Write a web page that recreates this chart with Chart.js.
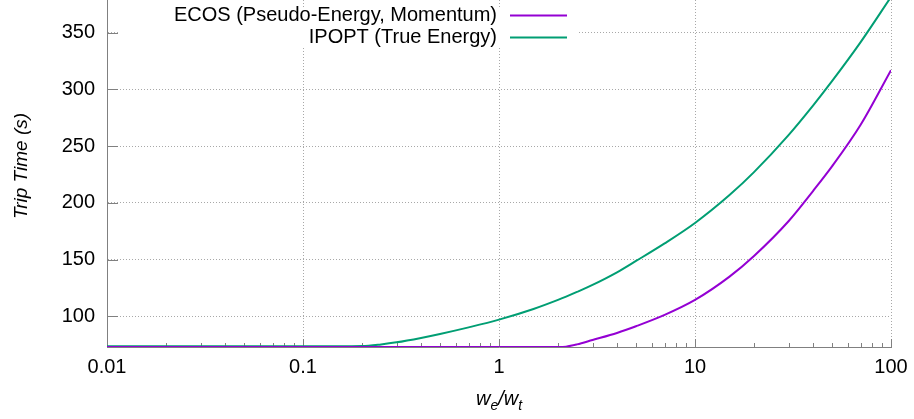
<!DOCTYPE html>
<html>
<head>
<meta charset="utf-8">
<script src="https://cdn.jsdelivr.net/npm/chart.js@4.4.1/dist/chart.umd.min.js"></script>
<style>
  html, body { margin: 0; padding: 0; background: #fff; }
  #wrap { width: 914px; height: 419px; }
</style>
</head>
<body>
<div id="wrap"><canvas id="tripChart" width="914" height="419"></canvas></div>
<script>
const FONT = '"Liberation Sans", Arial, Helvetica, sans-serif';

// weight ratio w_e / w_t (sample points)
const weightRatio = [0.01, 0.1, 0.15, 0.2, 0.25, 0.3, 0.4, 0.5, 0.7, 1, 1.5, 2, 2.2, 2.5, 3, 4, 5, 7, 10, 15, 20, 30, 40, 50, 70, 100];

// trip time (s) for each solver
const ecosTime  = [73.0, 73.0, 73.0, 73.0, 73.0, 73.0, 73.0, 73.0, 73.0, 73.0, 73.0, 73.0, 73.3, 75.3, 79.2, 85.4, 91.3, 101.3, 114.5, 135.0, 153.2, 183.8, 210.4, 232.1, 268.8, 316.9];
const ipoptTime = [73.6, 73.6, 73.6, 73.8, 75.3, 77.1, 81.0, 84.5, 90.3, 97.1, 106.5, 114.5, 117.4, 121.5, 127.7, 138.8, 148.8, 164.3, 182.3, 206.9, 227.1, 259.7, 285.7, 307.2, 341.6, 381.4];

const seriesNames  = ['ECOS (Pseudo-Energy, Momentum)', 'IPOPT (True Energy)'];
const seriesColors = ['#9400d3', '#009e73'];

const xTickValues = [0.01, 0.1, 1, 10, 100];
const yTickValues = [100, 150, 200, 250, 300, 350];
const yAxisTitle = 'Trip Time (s)';

// minor ticks 2..9 in every decade
const xMinorTicks = [];
for (let d = 0; d < xTickValues.length - 1; d++) {
    for (let m = 2; m <= 9; m++) xMinorTicks.push(xTickValues[d] * m);
}

const toPoints = ys => weightRatio.map((x, i) => ({ x: x, y: ys[i] }));

// gnuplot-like extras: key box, inward ticks, key entries, axis labels
const gnuplotDecor = {
    id: 'gnuplotDecor',
    beforeDatasetsDraw(chart) {
        const ctx = chart.ctx;
        const xs = chart.scales.x, ys = chart.scales.y;
        const area = chart.chartArea;
        ctx.save();
        // opaque key background
        ctx.fillStyle = '#ffffff';
        ctx.fillRect(119, 7, 459, 40);

        ctx.strokeStyle = '#808080';
        ctx.lineWidth = 1;
        ctx.beginPath();
        yTickValues.forEach(v => {
            const py = Math.round(ys.getPixelForValue(v)) + 0.5;
            ctx.moveTo(area.left, py);
            ctx.lineTo(area.left + 11, py);
        });
        xTickValues.forEach(v => {
            const px = Math.round(xs.getPixelForValue(v)) + 0.5;
            ctx.moveTo(px, area.bottom);
            ctx.lineTo(px, area.bottom - 8);
        });
        xMinorTicks.forEach(v => {
            const px = Math.round(xs.getPixelForValue(v)) + 0.5;
            ctx.moveTo(px, area.bottom);
            ctx.lineTo(px, area.bottom - 4);
        });
        ctx.stroke();
        ctx.restore();
    },
    afterDraw(chart) {
        const ctx = chart.ctx;
        ctx.save();
        // key
        const keyY = [15.5, 37.5];
        ctx.font = '20px ' + FONT;
        ctx.textAlign = 'right';
        ctx.textBaseline = 'middle';
        ctx.fillStyle = '#000';
        seriesNames.forEach((name, i) => {
            ctx.fillText(name, 497, keyY[i]);
            ctx.strokeStyle = seriesColors[i];
            ctx.lineWidth = 2;
            ctx.beginPath();
            ctx.moveTo(510, keyY[i]);
            ctx.lineTo(567, keyY[i]);
            ctx.stroke();
        });

        // y axis label, rotated
        ctx.save();
        ctx.translate(22, 166);
        ctx.rotate(-Math.PI / 2);
        ctx.font = 'italic 19px ' + FONT;
        ctx.textAlign = 'center';
        ctx.textBaseline = 'middle';
        ctx.fillText(yAxisTitle, 0, 0);
        ctx.restore();

        // x axis label: w_e / w_t
        const big = 'italic 20px ' + FONT, small = 'italic 14px ' + FONT;
        const parts = [['w', big, 0], ['e', small, 5], ['/', big, 0], ['w', big, 0], ['t', small, 5]];
        let total = 0;
        parts.forEach(p => { ctx.font = p[1]; total += ctx.measureText(p[0]).width; });
        let x = chart.chartArea.left + (chart.chartArea.right - chart.chartArea.left) / 2 - total / 2;
        ctx.textAlign = 'left';
        ctx.textBaseline = 'alphabetic';
        parts.forEach(p => {
            ctx.font = p[1];
            ctx.fillText(p[0], x, 405 + p[2]);
            x += ctx.measureText(p[0]).width;
        });
        ctx.restore();
    }
};

const tripCtx = document.getElementById('tripChart').getContext('2d');
new Chart(tripCtx, {
    type: 'line',
    data: {
        datasets: [{
            label: seriesNames[0],
            data: toPoints(ecosTime),
            borderColor: seriesColors[0],
            borderWidth: 2,
            pointRadius: 0,
            cubicInterpolationMode: 'monotone'
        }, {
            label: seriesNames[1],
            data: toPoints(ipoptTime),
            borderColor: seriesColors[1],
            borderWidth: 2,
            pointRadius: 0,
            cubicInterpolationMode: 'monotone'
        }]
    },
    options: {
        responsive: false,
        animation: false,
        layout: { padding: { left: 0, right: 23, top: 0, bottom: 0 } },
        plugins: {
            legend: { display: false },
            tooltip: { enabled: false }
        },
        scales: {
            x: {
                type: 'logarithmic',
                min: 0.01,
                max: 100,
                afterBuildTicks: s => { s.ticks = xTickValues.map(v => ({ value: v })); },
                afterFit: s => { s.height = 72; s.paddingLeft = 0; s.paddingRight = 0; },
                ticks: {
                    callback: v => String(v),
                    autoSkip: false,
                    maxRotation: 0,
                    padding: 8,
                    color: '#000',
                    font: { family: FONT, size: 20 }
                },
                grid: { color: '#a8a8a8', lineWidth: 1, drawTicks: false },
                border: { display: true, color: '#808080', width: 1, dash: [1, 2] }
            },
            y: {
                type: 'linear',
                min: 73,
                max: 378.7,
                afterBuildTicks: s => { s.ticks = yTickValues.map(v => ({ value: v })); },
                afterFit: s => { s.width = 107; s.paddingTop = 0; s.paddingBottom = 0; },
                ticks: {
                    padding: 12,
                    color: '#000',
                    font: { family: FONT, size: 20 }
                },
                grid: { color: '#a8a8a8', lineWidth: 1, drawTicks: false },
                border: { display: true, color: '#808080', width: 1, dash: [1, 2] }
            }
        }
    },
    plugins: [gnuplotDecor]
});
</script>
</body>
</html>
